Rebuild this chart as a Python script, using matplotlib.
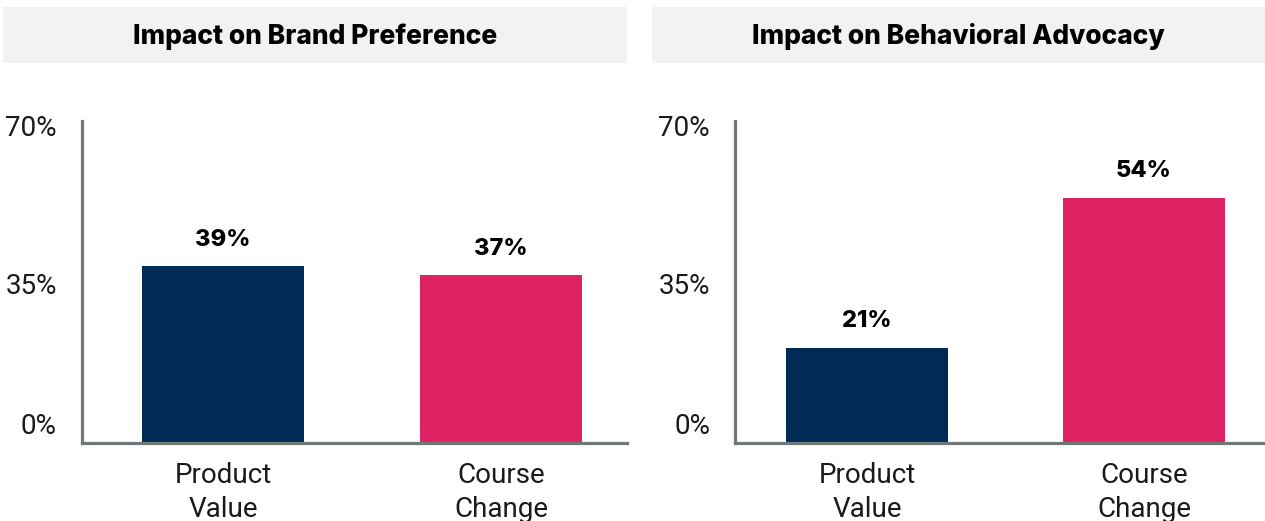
import matplotlib.pyplot as plt
from matplotlib.patches import Rectangle
import matplotlib.transforms as mtransforms

# Data
categories = ["Product\nValue", "Course\nChange"]
brand_pref = [39, 37]
advocacy = [21, 54]
panel_titles = ["Impact on Brand Preference", "Impact on Behavioral Advocacy"]
y_ticks = [0, 35, 70]
y_tick_labels = ["0%", "35%", "70%"]
bar_colors = ["#022a57", "#df2362"]

W, H = 1265, 521
fig = plt.figure(figsize=(W / 100, H / 100), dpi=100)
plt.rcParams['font.family'] = ['Roboto', 'DejaVu Sans']
bold_font = ['Inter', 'DejaVu Sans']


def px_axes(x0, x1, y_top, y_bot):
    return fig.add_axes([x0 / W, 1 - y_bot / H, (x1 - x0) / W, (y_bot - y_top) / H])


panels = [
    dict(vals=brand_pref, ax_x=(82, 627), box=(3, 627), xlim=(-0.507, 1.453)),
    dict(vals=advocacy, ax_x=(735, 1265), box=(652, 1265), xlim=(-0.477, 1.437)),
]

for p, title in zip(panels, panel_titles):
    # grey title box
    bx0, bx1 = p["box"]
    fig.patches.append(Rectangle((bx0 / W, 1 - 63 / H), (bx1 - bx0) / W, 56 / H,
                                 transform=fig.transFigure, facecolor="#f2f2f2",
                                 edgecolor="none", zorder=0))
    fig.text((bx0 + bx1) / 2 / W, 1 - 37 / H, title, ha="center", va="center",
             fontsize=19, fontweight="heavy", family=bold_font, color="#000000")

    ax = px_axes(p["ax_x"][0], p["ax_x"][1], 121, 443)
    x = range(len(categories))
    bars = ax.bar(x, p["vals"], width=0.583, color=bar_colors)
    ax.set_xlim(*p["xlim"])
    ax.set_ylim(0, 70 * 322 / 318)
    for b, v in zip(bars, p["vals"]):
        ax.annotate(f"{v}%", (b.get_x() + b.get_width() / 2, v), xytext=(0, 11),
                    textcoords="offset points", ha="center", va="bottom",
                    fontsize=17, fontweight="heavy", family=bold_font, color="#000000")

    for s in ["top", "right"]:
        ax.spines[s].set_visible(False)
    for s in ["left", "bottom"]:
        ax.spines[s].set_color("#6e7878")
        ax.spines[s].set_linewidth(2.3)

    ax.set_yticks(y_ticks)
    ax.set_yticklabels(y_tick_labels, fontsize=20, color="#1a1a1a")
    ax.tick_params(axis="y", length=0, pad=18)
    # lift the 0% label above the baseline like the original
    lab0 = ax.get_yticklabels()[0]
    lab0.set_transform(lab0.get_transform() + mtransforms.ScaledTranslation(0, 19 / 100, fig.dpi_scale_trans))

    ax.set_xticks(list(x))
    ax.set_xticklabels(categories, fontsize=20, color="#1a1a1a", linespacing=1.3)
    ax.tick_params(axis="x", length=0, pad=14)

fig.savefig("out.png", dpi=100)
